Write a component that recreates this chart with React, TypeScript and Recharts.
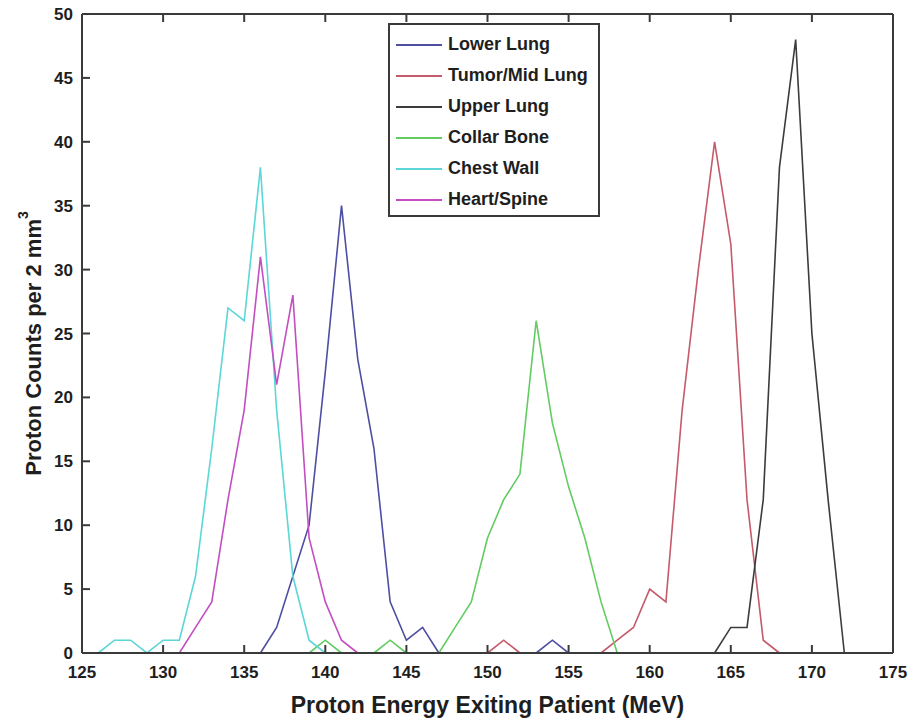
import { LineChart, Line, XAxis, YAxis, Legend } from "recharts";

// proton energy bins (MeV)
const energy = [
  125, 126, 127, 128, 129, 130, 131, 132, 133, 134, 135, 136, 137, 138, 139, 140, 141,
  142, 143, 144, 145, 146, 147, 148, 149, 150, 151, 152, 153, 154, 155, 156, 157, 158,
  159, 160, 161, 162, 163, 164, 165, 166, 167, 168, 169, 170, 171, 172, 173, 174, 175,
];

const _ = null;
// counts per 2 mm^3, one entry per energy bin
const lowerLung = [
  _, _, _, _, _, _, _, _, _, _, _, 0, 2, 6, 10, 22, 35,
  23, 16, 4, 1, 2, 0, _, _, _, _, _, 0, 1, 0, _, _, _,
  _, _, _, _, _, _, _, _, _, _, _, _, _, _, _, _, _,
];
const tumorMidLung = [
  _, _, _, _, _, _, _, _, _, _, _, _, _, _, _, _, _,
  _, _, _, _, _, _, _, _, 0, 1, 0, _, _, _, _, 0, 1,
  2, 5, 4, 19, 30, 40, 32, 12, 1, 0, _, _, _, _, _, _, _,
];
const upperLung = [
  _, _, _, _, _, _, _, _, _, _, _, _, _, _, _, _, _,
  _, _, _, _, _, _, _, _, _, _, _, _, _, _, _, _, _,
  _, _, _, _, _, 0, 2, 2, 12, 38, 48, 25, 12, 0, _, _, _,
];
const collarBone = [
  _, _, _, _, _, _, _, _, _, _, _, _, _, _, 0, 1, 0,
  _, 0, 1, 0, _, 0, 2, 4, 9, 12, 14, 26, 18, 13, 9, 4, 0,
  _, _, _, _, _, _, _, _, _, _, _, _, _, _, _, _, _,
];
const chestWall = [
  _, 0, 1, 1, 0, 1, 1, 6, 16, 27, 26, 38, 19, 6, 1, 0, _,
  _, _, _, _, _, _, _, _, _, _, _, _, _, _, _, _, _,
  _, _, _, _, _, _, _, _, _, _, _, _, _, _, _, _, _,
];
const heartSpine = [
  _, _, _, _, _, _, 0, 2, 4, 12, 19, 31, 21, 28, 9, 4, 1,
  0, _, _, _, _, _, _, _, _, _, _, _, _, _, _, _, _,
  _, _, _, _, _, _, _, _, _, _, _, _, _, _, _, _, _,
];

const xTicks = [125, 130, 135, 140, 145, 150, 155, 160, 165, 170, 175];
const yTicks = [0, 5, 10, 15, 20, 25, 30, 35, 40, 45, 50];

const series = [
  { key: "lowerLung", name: "Lower Lung", color: "#4e4ea2", values: lowerLung },
  { key: "tumorMidLung", name: "Tumor/Mid Lung", color: "#c45a6a", values: tumorMidLung },
  { key: "upperLung", name: "Upper Lung", color: "#3c3c3c", values: upperLung },
  { key: "collarBone", name: "Collar Bone", color: "#62cc62", values: collarBone },
  { key: "chestWall", name: "Chest Wall", color: "#5cd6d6", values: chestWall },
  { key: "heartSpine", name: "Heart/Spine", color: "#c24ec2", values: heartSpine },
];

const data = energy.map((e, i) => {
  const row: any = { energy: e };
  series.forEach((s) => { row[s.key] = s.values[i]; });
  return row;
});

const AXIS = "#3a3a3a";
const TEXT = "#1e1e1e";
const FONT = "'Liberation Sans', Arial, sans-serif";

const NoTick = () => <g />;

const LegendBox = () => (
  <div
    style={{
      width: 212, height: 194, border: `2px solid ${AXIS}`, background: "#fff",
      boxSizing: "border-box", paddingTop: 4, fontFamily: FONT,
    }}
  >
    {series.map((s) => (
      <div key={s.key} style={{ display: "flex", alignItems: "center", height: 31 }}>
        <div style={{ width: 46, height: 2, background: s.color, marginLeft: 6, marginRight: 6 }} />
        <span style={{ fontSize: 18, fontWeight: 700, color: TEXT }}>{s.name}</span>
      </div>
    ))}
  </div>
);

const YLabel = (props: any) => {
  const { viewBox } = props;
  const cx = 33;
  const cy = viewBox.y + viewBox.height / 2 + 10;
  return (
    <text
      x={cx} y={cy} transform={`rotate(-90 ${cx} ${cy})`} textAnchor="middle"
      dominantBaseline="central" fill={TEXT} fontSize={22} fontWeight={700} fontFamily={FONT}
    >
      Proton Counts per 2 mm<tspan dy={-10} fontSize={14}>3</tspan>
    </text>
  );
};

export default function App() {
  return (
    <div style={{ position: "absolute", left: 0, top: 0, background: "#fff" }}>
      <LineChart width={919} height={721} data={data} margin={{ top: 13, right: 25, left: 0, bottom: 0 }}>
        <XAxis
          dataKey="energy" type="number" domain={[125, 175]} ticks={xTicks} height={68}
          tickSize={-8} tickMargin={21} stroke={AXIS} strokeWidth={2}
          tick={{ fill: TEXT, fontSize: 17, fontWeight: 700, fontFamily: FONT }}
          label={{
            value: "Proton Energy Exiting Patient (MeV)", position: "insideBottom", offset: 8,
            fill: TEXT, fontSize: 23, fontWeight: 700, fontFamily: FONT,
          }}
        />
        <XAxis
          xAxisId="top" orientation="top" dataKey="energy" type="number" domain={[125, 175]}
          ticks={xTicks} height={1} tickSize={-8} stroke={AXIS} strokeWidth={2} tick={NoTick}
        />
        <YAxis
          domain={[0, 50]} ticks={yTicks} width={82} tickSize={-8} tickMargin={17}
          stroke={AXIS} strokeWidth={2}
          tick={{ fill: TEXT, fontSize: 17, fontWeight: 700, fontFamily: FONT }}
          label={<YLabel />}
        />
        <YAxis
          yAxisId="right" orientation="right" domain={[0, 50]} ticks={yTicks} width={1}
          tickSize={-8} stroke={AXIS} strokeWidth={2} tick={NoTick}
        />
        <Legend
          layout="vertical" align="center" verticalAlign="middle"
          wrapperStyle={{ left: 388, top: 23, width: 212 }}
          content={() => <LegendBox />}
        />
        {series.map((s) => (
          <Line
            key={s.key} dataKey={s.key} name={s.name} stroke={s.color} strokeWidth={1.6}
            dot={false} activeDot={false} isAnimationActive={false} type="linear"
          />
        ))}
      </LineChart>
    </div>
  );
}
